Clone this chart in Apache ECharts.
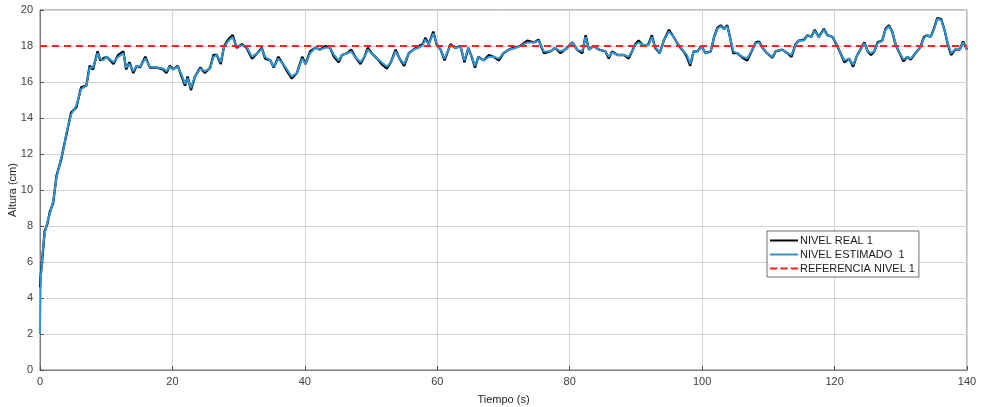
<!DOCTYPE html>
<html>
<head>
<meta charset="utf-8">
<script src="https://cdn.jsdelivr.net/npm/echarts@6/dist/echarts.min.js"></script>
<style>
  html, body { margin: 0; padding: 0; background: #fff; }
  #chart { width: 984px; height: 407px; }
</style>
</head>
<body>
<div id="chart"></div>
<script>
// tiempo (s) y niveles (cm)
var tiempo = [0, 0.1, 0.4, 0.7, 1.1, 1.5, 2.0, 2.5, 3.2, 3.6, 4.0, 4.7, 5.5, 6.2, 7.0, 7.5, 8.0, 8.7, 9.1, 9.5,
  10.1, 11.1, 11.8, 12.6, 13.0, 13.5, 14.1, 14.6, 15.1, 15.9, 16.6, 17.6, 18.6, 19.1, 19.6, 20.1, 20.8, 21.4, 21.9, 22.3,
  22.8, 23.4, 24.2, 24.9, 25.7, 26.2, 26.7, 27.3, 27.8, 28.5, 29.1, 29.7, 30.5, 31.2, 32.0, 32.8, 33.5, 34.0, 34.8, 35.3,
  36.0, 36.7, 37.3, 38.0, 38.8, 39.6, 40.1, 40.8, 41.6, 42.3, 43.1, 43.8, 44.4, 45.1, 45.6, 46.4, 47.0, 47.6, 48.4, 49.0,
  49.5, 50.1, 50.9, 51.6, 52.4, 53.0, 53.7, 54.3, 55.0, 55.7, 56.4, 57.2, 57.8, 58.2, 58.7, 59.4, 59.9, 60.5, 61.1, 62.0,
  62.7, 63.5, 64.1, 64.7, 65.2, 65.7, 66.2, 67.0, 67.8, 68.5, 69.3, 70.0, 70.8, 71.5, 72.5, 73.6, 74.6, 75.3, 76.1, 77.1,
  77.8, 78.6, 79.6, 80.4, 81.1, 81.9, 82.4, 82.9, 83.6, 84.4, 85.4, 85.9, 86.4, 87.2, 88.2, 88.9, 89.4, 89.9, 90.4, 91.2,
  91.9, 92.4, 92.9, 93.6, 94.2, 95.0, 95.7, 96.5, 97.2, 97.7, 98.2, 98.7, 99.3, 99.9, 100.5, 101.3, 101.8, 102.3, 102.8, 103.3,
  103.8, 104.2, 104.7, 105.3, 106.1, 106.8, 107.6, 108.1, 108.6, 109.1, 109.8, 110.6, 111.1, 112.1, 112.9, 113.5, 114.1, 114.6, 115.4, 115.9,
  116.5, 117.0, 117.6, 118.4, 118.9, 119.7, 120.4, 120.9, 121.5, 122.2, 122.8, 123.3, 123.9, 124.5, 125.0, 125.5, 126.0, 126.5, 127.2, 127.7,
  128.2, 128.7, 129.2, 129.7, 130.4, 131.0, 131.5, 132.2, 132.9, 133.5, 134.0, 134.5, 135.0, 135.5, 136.1, 136.6, 137.1, 137.6, 138.2, 138.9,
  139.4, 140.0];

var nivelEstimado = [2.0, 5.0, 6.5, 7.6, 8.2, 8.7, 9.4, 10.7, 11.8, 12.3, 13.2, 14.2, 14.7, 15.6, 15.8, 16.8, 16.8, 17.6, 17.3, 17.2,
  17.4, 17.1, 17.4, 17.6, 16.8, 17.0, 16.6, 16.9, 16.85, 17.3, 16.85, 16.8, 16.75, 16.6, 16.85, 16.7, 16.85, 16.4, 15.9, 16.2,
  15.65, 16.3, 16.75, 16.6, 16.75, 17.4, 17.5, 17.1, 17.95, 18.3, 18.5, 17.95, 18.05, 17.95, 17.4, 17.6, 17.85, 17.4, 17.2, 16.85,
  17.3, 17.0, 16.7, 16.3, 16.5, 17.3, 17.0, 17.6, 17.9, 17.8, 17.9, 17.9, 17.5, 17.2, 17.5, 17.6, 17.7, 17.4, 17.1, 17.4,
  17.8, 17.6, 17.3, 17.1, 16.85, 17.1, 17.7, 17.3, 17.0, 17.6, 17.8, 17.9, 18.05, 18.35, 18.1, 18.7, 18.15, 17.8, 17.3, 18.05,
  17.9, 17.95, 17.2, 17.9, 17.4, 16.9, 17.4, 17.2, 17.4, 17.4, 17.3, 17.6, 17.8, 17.85, 18.0, 18.2, 18.2, 18.3, 17.7, 17.7,
  17.9, 17.7, 17.85, 18.2, 17.8, 17.7, 18.5, 17.8, 18.0, 17.8, 17.7, 17.4, 17.65, 17.5, 17.5, 17.4, 17.7, 18.05, 18.2, 18.05,
  18.05, 18.5, 17.95, 17.6, 18.3, 18.8, 18.5, 18.05, 17.7, 17.5, 17.0, 17.7, 17.7, 17.95, 17.6, 17.7, 18.5, 18.95, 19.1, 18.95,
  19.1, 18.5, 17.7, 17.6, 17.4, 17.3, 17.8, 18.15, 18.2, 17.9, 17.6, 17.4, 17.7, 17.8, 17.6, 17.5, 18.05, 18.3, 18.3, 18.6,
  18.5, 18.85, 18.5, 18.9, 18.6, 18.5, 18.05, 17.6, 17.2, 17.3, 16.95, 17.4, 17.8, 18.15, 17.7, 17.6, 17.7, 18.15, 18.3, 18.9,
  19.1, 18.8, 18.15, 17.7, 17.25, 17.4, 17.3, 17.6, 17.9, 18.45, 18.6, 18.5, 18.9, 19.5, 19.45, 18.9, 18.15, 17.6, 17.8, 17.8,
  18.2, 17.8];

var nivelReal = [4.6, 5.2, 6.4, 7.7, 8.1, 8.8, 9.3, 10.8, 11.7, 12.4, 13.1, 14.3, 14.6, 15.7, 15.8, 16.9, 16.7, 17.7, 17.2, 17.3,
  17.4, 17.0, 17.5, 17.7, 16.7, 17.1, 16.5, 16.9, 16.8, 17.4, 16.8, 16.8, 16.7, 16.5, 16.9, 16.7, 16.9, 16.3, 15.8, 16.3,
  15.55, 16.3, 16.8, 16.5, 16.8, 17.5, 17.5, 17.0, 18.0, 18.4, 18.6, 17.9, 18.1, 17.9, 17.3, 17.6, 17.9, 17.3, 17.2, 16.8,
  17.4, 17.0, 16.6, 16.2, 16.5, 17.4, 17.0, 17.7, 17.9, 17.8, 18.0, 17.9, 17.4, 17.1, 17.5, 17.6, 17.8, 17.4, 17.0, 17.4,
  17.9, 17.6, 17.3, 17.0, 16.75, 17.1, 17.8, 17.3, 16.9, 17.6, 17.8, 18.0, 18.1, 18.45, 18.1, 18.8, 18.1, 17.8, 17.2, 18.1,
  17.9, 18.0, 17.1, 17.9, 17.4, 16.8, 17.4, 17.2, 17.5, 17.4, 17.2, 17.6, 17.8, 17.9, 18.0, 18.3, 18.2, 18.35, 17.6, 17.7,
  17.9, 17.6, 17.9, 18.2, 17.8, 17.6, 18.6, 17.8, 18.0, 17.8, 17.7, 17.3, 17.7, 17.5, 17.5, 17.3, 17.7, 18.1, 18.3, 18.0,
  18.1, 18.6, 17.9, 17.6, 18.3, 18.9, 18.5, 18.0, 17.7, 17.4, 16.9, 17.7, 17.7, 18.0, 17.6, 17.7, 18.5, 19.0, 19.15, 18.95,
  19.15, 18.5, 17.6, 17.6, 17.35, 17.2, 17.8, 18.2, 18.25, 17.9, 17.6, 17.35, 17.7, 17.8, 17.6, 17.4, 18.1, 18.3, 18.35, 18.6,
  18.5, 18.9, 18.5, 18.95, 18.6, 18.5, 18.0, 17.6, 17.1, 17.3, 16.85, 17.4, 17.8, 18.2, 17.7, 17.5, 17.7, 18.2, 18.3, 18.95,
  19.15, 18.8, 18.1, 17.7, 17.15, 17.4, 17.25, 17.6, 17.9, 18.5, 18.6, 18.5, 18.95, 19.55, 19.5, 18.9, 18.1, 17.5, 17.8, 17.8,
  18.25, 17.8];

var referenciaX = [0, 140];
var referencia = [18, 18];

var xTicks = [0, 20, 40, 60, 80, 100, 120, 140];
var yTicks = [0, 2, 4, 6, 8, 10, 12, 14, 16, 18, 20];

function pares(xs, ys) {
  return xs.map(function (x, i) { return [x, ys[i]]; });
}

var chart = echarts.init(document.getElementById('chart'));

var fuente = 'Liberation Sans, Arial, sans-serif';

// iconos de leyenda estilo matlab (linea continua / discontinua)
var iconoLinea = 'path://M0,0h30v2h-30z';
var iconoDiscontinuo = 'path://M0,0h7v2h-7z M10,0h7v2h-7z M20,0h7v2h-7z';

var option = {
  animation: false,
  textStyle: { fontFamily: fuente },
  grid: {
    left: 40, right: 17, top: 10, bottom: 37,
    outerBoundsMode: 'none',
    containLabel: false,
    show: true,
    borderColor: '#7f7f7f',
    borderWidth: 1
  },
  legend: {
    orient: 'vertical',
    left: 767,
    top: 231,
    backgroundColor: '#fff',
    borderColor: '#6e6e6e',
    borderWidth: 1,
    borderRadius: 0,
    padding: [4, 4, 3, 3],
    itemGap: 3,
    itemWidth: 28,
    itemHeight: 2,
    symbolKeepAspect: false,
    textStyle: { fontSize: 11, color: '#1a1a1a', fontFamily: fuente, padding: [0, 0, 0, -3] },
    data: [
      { name: 'NIVEL REAL 1', icon: iconoLinea },
      { name: 'NIVEL ESTIMADO  1', icon: iconoLinea },
      { name: 'REFERENCIA NIVEL 1', icon: iconoDiscontinuo }
    ]
  },
  xAxis: {
    type: 'value',
    min: xTicks[0],
    max: xTicks[xTicks.length - 1],
    interval: 20,
    name: 'Tiempo (s)',
    nameLocation: 'middle',
    nameGap: 24,
    nameMoveOverlap: false,
    nameTextStyle: { fontSize: 11, color: '#262626' },
    axisLine: { lineStyle: { color: '#7f7f7f' } },
    axisTick: { inside: true, length: 4, lineStyle: { color: '#4d4d4d' } },
    axisLabel: { fontSize: 11, color: '#404040', margin: 6 },
    splitLine: { show: true, lineStyle: { color: '#d4d4d4' } }
  },
  yAxis: {
    type: 'value',
    min: yTicks[0],
    max: yTicks[yTicks.length - 1],
    interval: 2,
    name: 'Altura (cm)',
    nameLocation: 'middle',
    nameGap: 22,
    nameMoveOverlap: false,
    nameTextStyle: { fontSize: 11, color: '#262626' },
    axisLine: { show: true, lineStyle: { color: '#7f7f7f' } },
    axisTick: { show: true, inside: true, length: 4, lineStyle: { color: '#4d4d4d' } },
    axisLabel: { fontSize: 11, color: '#404040', margin: 7 },
    splitLine: { show: true, lineStyle: { color: '#d4d4d4' } }
  },
  series: [
    {
      name: 'NIVEL REAL 1',
      type: 'line',
      symbol: 'none',
      data: pares(tiempo, nivelReal),
      lineStyle: { color: '#000000', width: 2.3 },
      itemStyle: { color: '#000000' },
      z: 2
    },
    {
      name: 'NIVEL ESTIMADO  1',
      type: 'line',
      symbol: 'none',
      data: pares(tiempo, nivelEstimado),
      lineStyle: { color: '#2f95d6', width: 2 },
      itemStyle: { color: '#2f95d6' },
      z: 3
    },
    {
      name: 'REFERENCIA NIVEL 1',
      type: 'line',
      symbol: 'none',
      data: pares(referenciaX, referencia),
      lineStyle: { color: '#ff2020', width: 2, type: [7, 5] },
      itemStyle: { color: '#ff2020' },
      z: 4
    }
  ]
};

chart.setOption(option);
</script>
</body>
</html>
